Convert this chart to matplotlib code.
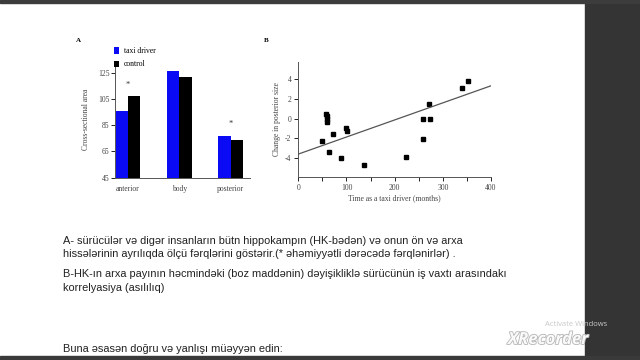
import numpy as np
import matplotlib
matplotlib.use("Agg")
import matplotlib.pyplot as plt
from matplotlib.patches import Rectangle
import matplotlib.patheffects as pe

plt.rcParams["axes.unicode_minus"] = False

# chart A: cross-sectional area of hippocampus regions
regions = ["anterior", "body", "posterior"]
taxi = [96, 126, 77]
control = [107, 122, 73.5]
starred = [True, False, True]
a_yticks = [45, 65, 85, 105, 125]

# chart B: change in posterior size vs. months as taxi driver
months = [50, 57, 60, 60, 60, 63, 71, 89, 100, 102, 137, 223, 258, 258, 271, 273, 339, 352]
change = [-2.25, 0.5, 0.25, -0.05, -0.35, -3.4, -1.6, -3.95, -0.95, -1.2, -4.75, -3.9,
          -0.05, -2.05, 1.5, -0.05, 3.15, 3.85]
fit_x = [0, 400]
fit_y = [-3.6, 3.35]

text_lines = [
    "A- sürücülər və digər insanların bütn hippokampın (HK-bədən) və onun ön və arxa",
    "hissələrinin ayrılıqda ölçü fərqlərini göstərir.(* əhəmiyyətli dərəcədə fərqlənirlər) .",
    "B-HK-ın arxa payının həcmindəki (boz maddənin) dəyişikliklə sürücünün iş vaxtı arasındakı",
    "korrelyasiya (asılılıq)",
]
last_line = "Buna əsasən doğru və yanlışı müəyyən edin:"

W, H = 640, 360
fig = plt.figure(figsize=(6.4, 3.6), dpi=100)


def px(x0, y0, x1, y1):
    return [x0 / W, 1 - y1 / H, (x1 - x0) / W, (y1 - y0) / H]


serif = "Liberation Serif"
sans = "Liberation Sans"

# ---- chart A
ax1 = fig.add_axes(px(115, 61.7, 250, 177.7))
x = np.arange(len(regions))
bw = 0.24
ax1.bar(x - bw / 2, taxi, bw, color="#0a0af5", label="taxi driver")
ax1.bar(x + bw / 2, control, bw, color="black", label="control")
for i in range(len(regions)):
    if starred[i]:
        ax1.text(x[i], max(taxi[i], control[i]) + 6, "*", ha="center", va="bottom",
                 fontsize=6, family=serif, color="#333")
ax1.set_ylim(45, 133.4)
ax1.set_xlim(-0.25, 2.375)
ax1.set_yticks(a_yticks)
ax1.set_xticks(x)
ax1.set_xticklabels(regions)
ax1.tick_params(axis="x", length=0, pad=5)
ax1.tick_params(axis="y", length=3, width=0.6, pad=1)
for lab in ax1.get_xticklabels() + ax1.get_yticklabels():
    lab.set_fontsize(5.5)
    lab.set_family(serif)
    lab.set_color("#444")
ax1.set_ylabel("Cross-sectional area", fontsize=5.5, family=serif, color="#444", labelpad=6)
for s in ["top", "right"]:
    ax1.spines[s].set_visible(False)
for s in ["left", "bottom"]:
    ax1.spines[s].set_linewidth(0.7)
    ax1.spines[s].set_color("#555")
ax1.legend(loc="upper left", bbox_to_anchor=(114 / W, 1 - 47 / H), bbox_transform=fig.transFigure,
           frameon=False, handlelength=0.7, handleheight=0.9, handletextpad=0.6,
           labelspacing=0.7, prop={"family": serif, "size": 5.5}, borderaxespad=0, borderpad=0)
fig.text(78 / W, 1 - 41 / H, "A", fontsize=5, family=serif, weight="bold", ha="center", va="center")

# ---- chart B
ax2 = fig.add_axes(px(298.3, 61.7, 491, 176.7))
ax2.plot(months, change, "s", color="black", markersize=3.4)
ax2.plot(fit_x, fit_y, color="#555", lw=0.9)
ax2.set_xlim(0, 400)
ax2.set_ylim(-5.9, 5.8)
ax2.set_yticks([-4, -2, 0, 2, 4])
ax2.set_xticks([0, 100, 200, 300, 400])
ax2.set_xticks(np.arange(50, 400, 100), minor=True)
ax2.tick_params(axis="both", which="both", length=3, width=0.6, pad=2)
for lab in ax2.get_xticklabels() + ax2.get_yticklabels():
    lab.set_fontsize(5.5)
    lab.set_family(serif)
    lab.set_color("#444")
ax2.set_xlabel("Time as a taxi driver (months)", fontsize=5.5, family=serif, color="#444", labelpad=2)
ax2.set_ylabel("Change in posterior size", fontsize=5.5, family=serif, color="#444", labelpad=3)
for s in ["top", "right"]:
    ax2.spines[s].set_visible(False)
for s in ["left", "bottom"]:
    ax2.spines[s].set_linewidth(0.7)
    ax2.spines[s].set_color("#555")
fig.text(266.7 / W, 1 - 40 / H, "B", fontsize=5, family=serif, weight="bold", ha="center", va="center")

# ---- document text
ys = [241, 254.3, 274.3, 287.7]
for t, y in zip(text_lines, ys):
    fig.text(63 / W, 1 - y / H, t, fontsize=7.9, family=sans, color="#222", va="center")
fig.text(63 / W, 1 - 349 / H, last_line, fontsize=7.9, family=sans, color="#222", va="center")

# ---- screen frame
fig.patches.append(Rectangle((585 / W, 0), 55 / W, 1, transform=fig.transFigure,
                             color="#343434", zorder=5))
fig.patches.append(Rectangle((0, 1 - 3.3 / H), 1, 3.3 / H, transform=fig.transFigure,
                             color="#3c3c3c", zorder=5))
fig.patches.append(Rectangle((0, 0), 1, 4 / H, transform=fig.transFigure,
                             color="#3a3a3a", zorder=5))

# watermark
fig.text(545 / W, 1 - 325 / H, "Activate Windows", fontsize=5.5, family="Open Sans",
         color="#c8c8c8", va="center", zorder=6)
fig.text(508 / W, 1 - 339 / H, "XRecorder", fontsize=12, family="Open Sans", style="italic",
         weight="bold", color="#fafafa", va="center", zorder=6,
         path_effects=[pe.withStroke(linewidth=1.2, foreground="#b5b5b5")])

fig.savefig("out.png", dpi=100)
